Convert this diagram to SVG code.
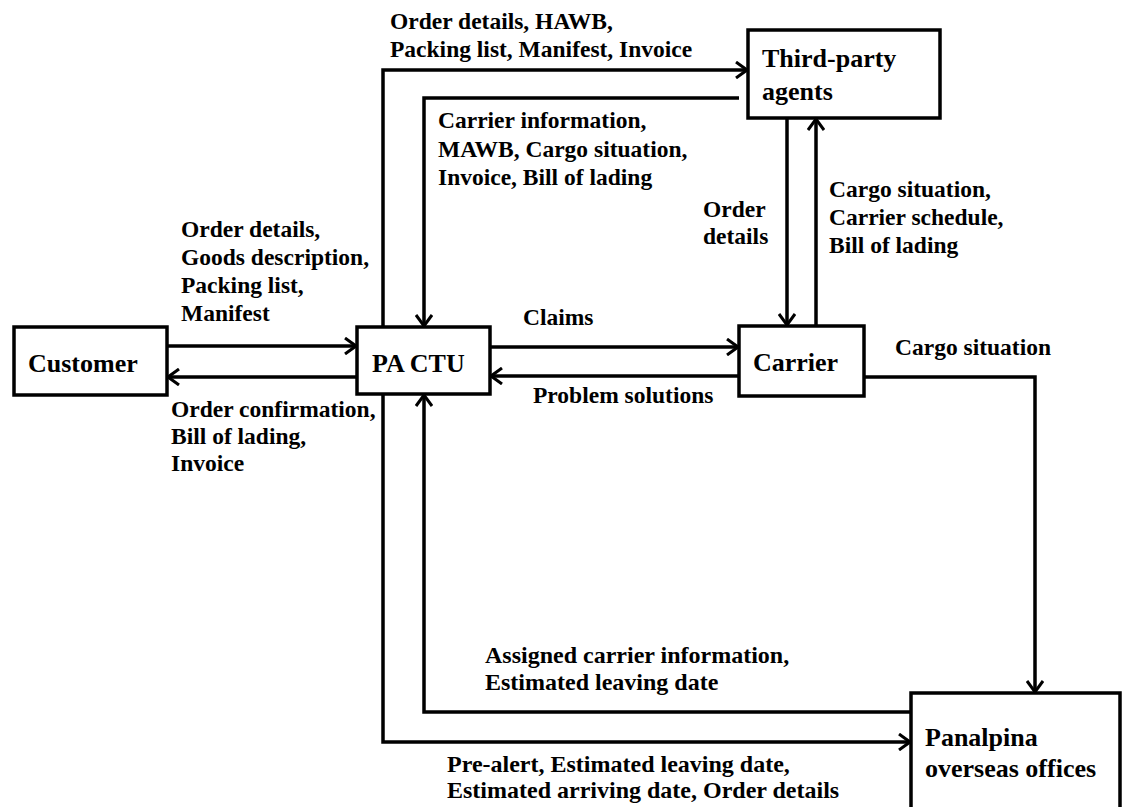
<svg xmlns="http://www.w3.org/2000/svg" width="1122" height="807" viewBox="0 0 1122 807">
<style>
  .box { fill: #ffffff; stroke: #000000; stroke-width: 3.5; }
  .node { font-family: "Liberation Serif", "Times New Roman", serif; font-weight: bold; font-size: 26px; fill: #000000; }
  .lbl { font-family: "Liberation Serif", "Times New Roman", serif; font-weight: bold; font-size: 23.5px; fill: #000000; }
  .lbl2 { font-family: "Liberation Serif", "Times New Roman", serif; font-weight: bold; font-size: 24px; fill: #000000; }
  .conn { fill: none; stroke: #000000; stroke-width: 3.5; }
</style>
<defs>
  <marker id="arr" viewBox="0 0 14 18" refX="12" refY="9" markerWidth="14" markerHeight="18" markerUnits="userSpaceOnUse" orient="auto">
    <path d="M1,1 L12,9 L1,17" fill="none" stroke="#000000" stroke-width="3"/>
  </marker>
</defs>
<rect width="1122" height="807" fill="#ffffff"/>

<g id="connectors">
  <line class="conn" x1="167" y1="346" x2="356" y2="346" marker-end="url(#arr)"/>
  <line class="conn" x1="357" y1="377" x2="168" y2="377" marker-end="url(#arr)"/>
  <polyline class="conn" points="383,327 383,70 747,70" marker-end="url(#arr)"/>
  <polyline class="conn" points="739,98 424,98 424,326" marker-end="url(#arr)"/>
  <line class="conn" x1="490" y1="347" x2="738" y2="347" marker-end="url(#arr)"/>
  <line class="conn" x1="739" y1="376" x2="491" y2="376" marker-end="url(#arr)"/>
  <line class="conn" x1="787" y1="118" x2="787" y2="325" marker-end="url(#arr)"/>
  <line class="conn" x1="816" y1="326" x2="816" y2="119" marker-end="url(#arr)"/>
  <polyline class="conn" points="864,377 1035,377 1035,692" marker-end="url(#arr)"/>
  <polyline class="conn" points="911,712 424,712 424,395" marker-end="url(#arr)"/>
  <polyline class="conn" points="383,394 383,742 910,742" marker-end="url(#arr)"/>
</g>

<g id="labels">
  <text class="lbl" x="390" y="29">Order details, HAWB,</text>
  <text class="lbl" x="390" y="57">Packing list, Manifest, Invoice</text>
  <text class="lbl" x="438" y="128">Carrier information,</text>
  <text class="lbl" x="438" y="157">MAWB, Cargo situation,</text>
  <text class="lbl" x="438" y="185">Invoice, Bill of lading</text>
  <text class="lbl" x="181" y="237">Order details,</text>
  <text class="lbl" x="181" y="265">Goods description,</text>
  <text class="lbl" x="181" y="293">Packing list,</text>
  <text class="lbl" x="181" y="321">Manifest</text>
  <text class="lbl" x="171" y="417">Order confirmation,</text>
  <text class="lbl" x="171" y="444">Bill of lading,</text>
  <text class="lbl" x="171" y="471">Invoice</text>
  <text class="lbl" x="523" y="325">Claims</text>
  <text class="lbl" x="533" y="403">Problem solutions</text>
  <text class="lbl" x="703" y="217">Order</text>
  <text class="lbl" x="703" y="244">details</text>
  <text class="lbl" x="829" y="197">Cargo situation,</text>
  <text class="lbl" x="829" y="225">Carrier schedule,</text>
  <text class="lbl" x="829" y="253">Bill of lading</text>
  <text class="lbl" x="895" y="355">Cargo situation</text>
  <text class="lbl2" x="485" y="663">Assigned carrier information,</text>
  <text class="lbl2" x="485" y="690">Estimated leaving date</text>
  <text class="lbl2" x="447" y="772">Pre-alert, Estimated leaving date,</text>
  <text class="lbl2" x="447" y="798">Estimated arriving date, Order details</text>
</g>

<g id="customer">
  <rect class="box" x="14" y="327" width="153" height="68"/>
  <text class="node" x="28" y="372">Customer</text>
</g>
<g id="pactu">
  <rect class="box" x="357" y="327" width="133" height="67"/>
  <text class="node" x="372" y="372">PA CTU</text>
</g>
<g id="carrier">
  <rect class="box" x="739" y="326" width="125" height="70"/>
  <text class="node" x="753" y="371">Carrier</text>
</g>
<g id="thirdparty">
  <rect class="box" x="748" y="30" width="192" height="88"/>
  <text class="node" x="762" y="67">Third-party</text>
  <text class="node" x="762" y="100">agents</text>
</g>
<g id="panalpina">
  <rect class="box" x="911" y="693" width="209" height="130"/>
  <text class="node" x="925" y="746">Panalpina</text>
  <text class="node" x="925" y="777">overseas offices</text>
</g>
</svg>
